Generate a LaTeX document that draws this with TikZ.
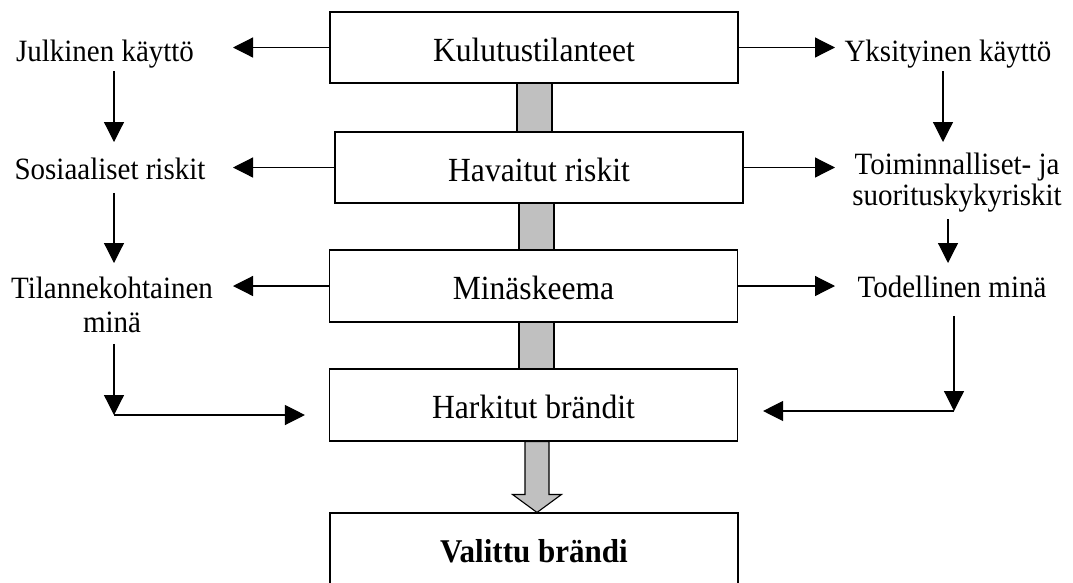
\documentclass[tikz,border=0pt]{standalone}
\usepackage{fontspec}
\setmainfont{Liberation Serif}[FakeStretch=0.935]
\usetikzlibrary{arrows.meta,calc}
\definecolor{barfill}{HTML}{C0C0C0}
\begin{document}
\begin{tikzpicture}[x=1pt,y=-1pt,
  stage/.style={draw,line width=1.1pt,minimum width=408pt,minimum height=71pt,
    inner sep=0pt,text height=27pt,text depth=0pt,font=\fontsize{33.8}{38}\selectfont},
  side/.style={inner sep=0pt,anchor=north,align=center,font=\fontsize{31}{32}\selectfont},
  arr/.style={line width=1.2pt,-{Triangle[length=20pt,width=20pt]}},
  bar/.style={fill=barfill,draw=black,line width=1.1pt}]
\useasboundingbox (0,0) rectangle (1073,582);
\clip (0,0) rectangle (1073,582);

% central chain of stages
\node[stage] (b1) at (534,47.5) {Kulutustilanteet};
\node[stage] (b2) at (539,167.5) {Havaitut riskit};
\node[stage,minimum height=72pt] (b3) at (533.5,286) {Minäskeema};
\node[stage,minimum height=72pt] (b4) at (533.5,405) {Harkitut brändit};
\node[stage,font=\fontsize{33.2}{38}\selectfont\bfseries] (b5) at (534,548.5) {Valittu brändi};

% grey links between stages
\filldraw[bar] ($(b1.south)+(-17,0)$) rectangle ($(b1.south |- b2.north)+(18,0)$);
\filldraw[bar] ($(b2.south)+(-20,0)$) rectangle ($(b2.south |- b3.north)+(15,0)$);
\filldraw[bar] ($(b3.south)+(-14.5,0)$) rectangle ($(b3.south |- b4.north)+(20.5,0)$);

% block arrow to the chosen brand
\coordinate (s) at ($(b4.south)+(3.5,0)$);
\coordinate (t) at (s |- b5.north);
\filldraw[bar,line join=miter] ($(s)+(-12,0)$) -- ($(t)+(-12,-18)$) -- ($(t)+(-24.5,-18)$)
  -- (t) -- ($(t)+(24.5,-18)$) -- ($(t)+(12,-18)$) -- ($(s)+(12,0)$) -- cycle;

% side labels
\node[side] (jul) at (105,39.6) {Julkinen käyttö};
\node[side] (sos) at (110,157.6) {Sosiaaliset riskit};
\node[side,font=\fontsize{31}{34}\selectfont] (til) at (112,276.6) {Tilannekohtainen\\minä};
\node[side] (yks) at (948,39.6) {Yksityinen käyttö};
\node[side,font=\fontsize{31}{31}\selectfont] (toi) at (957,152.6) {Toiminnalliset- ja\\suorituskykyriskit};
\node[side] (tod) at (952,275.6) {Todellinen minä};

% horizontal arrows out of the stages
\coordinate (tipL) at (233,0);
\coordinate (tipR) at (835,0);
\draw[arr] (b1.west) -- (b1.west -| tipL);
\draw[arr] (b2.west) -- (b2.west -| tipL);
\draw[arr] (b3.west) -- (b3.west -| tipL);
\draw[arr] (b1.east) -- (b1.east -| tipR);
\draw[arr] (b2.east) -- (b2.east -| tipR);
\draw[arr] (b3.east) -- (b3.east -| tipR);

% left column
\coordinate (xL) at (114,0);
\draw[arr,shorten <=3pt,shorten >=15.6pt] (jul.south -| xL) -- (sos.north -| xL);
\draw[arr,shorten <=13pt,shorten >=13.6pt] (sos.south -| xL) -- (til.north -| xL);
\coordinate (cL) at (114,415);
\draw[arr,shorten <=11pt] (til.south -| cL) -- (cL);
\draw[arr,shorten >=24pt] (cL) -- (cL -| b4.west);

% right column
\coordinate (xR1) at (943,0);
\coordinate (xR2) at (948,0);
\draw[arr,shorten <=3pt,shorten >=10.6pt] (yks.south -| xR1) -- (toi.north -| xR1);
\draw[arr,shorten <=7pt,shorten >=12.6pt] (toi.south -| xR2) -- (tod.north -| xR2);
\coordinate (cR) at (954,411);
\draw[arr,shorten <=18pt] (tod.south -| cR) -- (cR);
\draw[arr,shorten >=25pt] (cR) -- (cR -| b4.east);
\end{tikzpicture}
\end{document}
